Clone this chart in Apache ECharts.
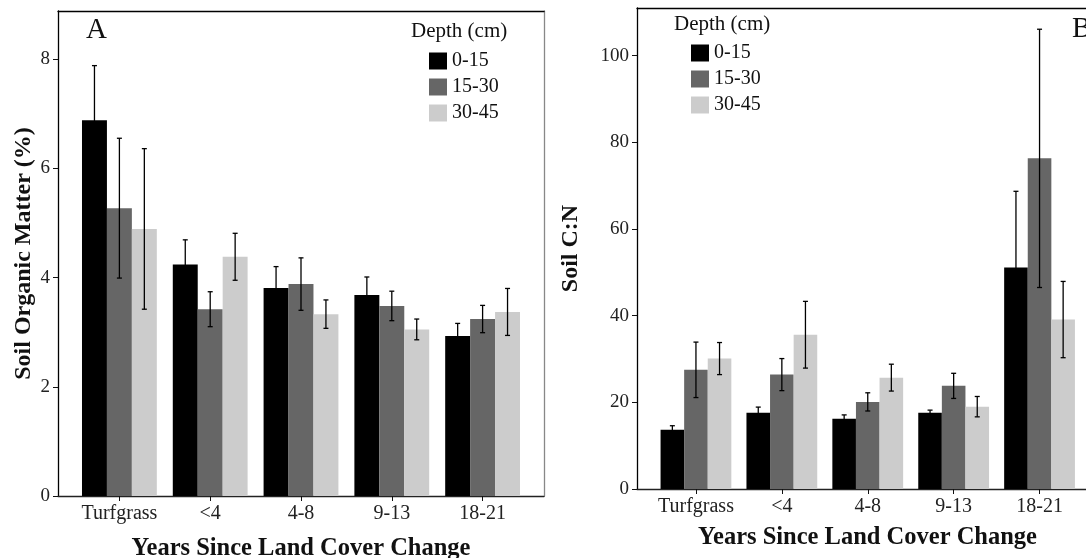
<!DOCTYPE html>
<html>
<head>
<meta charset="utf-8">
<script src="https://cdn.jsdelivr.net/npm/echarts@6/dist/echarts.min.js"></script>
<style>
    html, body { margin: 0; padding: 0; background: #fff; }
    #chart { width: 1086px; height: 558px; }
</style>
</head>
<body>
<div id="chart"></div>
<script>
    const categories = ['Turfgrass', '<4', '4-8', '9-13', '18-21'];
    const depths = ['0-15', '15-30', '30-45'];
    const depthColors = ['#000000', '#666666', '#cccccc'];

    // A: soil organic matter (%) - mean and error per depth
    const somMean0_15 = [6.88, 4.24, 3.81, 3.68, 2.93];
    const somMean15_30 = [5.27, 3.42, 3.88, 3.48, 3.24];
    const somMean30_45 = [4.89, 4.38, 3.33, 3.05, 3.37];
    const somErr0_15 = [1.0, 0.45, 0.39, 0.33, 0.23];
    const somErr15_30 = [1.28, 0.32, 0.48, 0.27, 0.25];
    const somErr30_45 = [1.47, 0.43, 0.26, 0.19, 0.43];
    const somTicks = [0, 2, 4, 6, 8];

    // B: soil C:N - mean and error per depth
    const cnMean0_15 = [13.7, 17.6, 16.2, 17.6, 51.1];
    const cnMean15_30 = [27.5, 26.4, 20.1, 23.8, 76.3];
    const cnMean30_45 = [30.1, 35.6, 25.7, 19.0, 39.1];
    const cnErr0_15 = [0.9, 1.3, 0.9, 0.6, 17.6];
    const cnErr15_30 = [6.4, 3.7, 2.1, 2.9, 29.8];
    const cnErr30_45 = [3.7, 7.7, 3.1, 2.35, 8.8];
    const cnTicks = [0, 20, 40, 60, 80, 100];

    const FONT = 'Liberation Serif';
    const GAP = 0.176;

    let myChart = echarts.init(document.getElementById('chart'));

    function barSeries(axis, means) {
        return means.map(function (m, i) {
            return {
                name: depths[i],
                type: 'bar',
                xAxisIndex: axis, yAxisIndex: axis,
                barGap: '0%',
                barCategoryGap: (GAP * 100) + '%',
                itemStyle: { color: depthColors[i] },
                data: m
            };
        });
    }

    function errorSeries(axis, means, errs) {
        return means.map(function (m, pos) {
            return {
                type: 'custom',
                xAxisIndex: axis, yAxisIndex: axis,
                z: 5,
                silent: true,
                encode: { x: 0, y: [1, 2] },
                data: m.map(function (v, i) { return [i, v - errs[pos][i], v + errs[pos][i]]; }),
                renderItem: function (params, api) {
                    let band = api.size([1, 0])[0];
                    let barW = band * (1 - GAP) / 3;
                    let lo = api.coord([api.value(0), api.value(1)]);
                    let hi = api.coord([api.value(0), api.value(2)]);
                    let x = lo[0] + (pos - 1) * barW;
                    let st = { stroke: '#000', lineWidth: 1.3 };
                    return {
                        type: 'group',
                        children: [
                            { type: 'line', shape: { x1: x, y1: lo[1], x2: x, y2: hi[1] }, style: st },
                            { type: 'line', shape: { x1: x - 2.5, y1: hi[1], x2: x + 2.5, y2: hi[1] }, style: st },
                            { type: 'line', shape: { x1: x - 2.5, y1: lo[1], x2: x + 2.5, y2: lo[1] }, style: st }
                        ]
                    };
                }
            };
        });
    }

    function frameX(grid, top, name, gap) {
        return {
            type: 'value', gridIndex: grid, position: top ? 'top' : 'bottom',
            min: 0, max: 1,
            axisLine: { show: true, onZero: false, lineStyle: { color: top ? '#000' : '#222', width: 1.3 } },
            axisTick: { show: false }, axisLabel: { show: false }, splitLine: { show: false },
            name: name || '', nameLocation: 'middle', nameGap: gap || 35,
            nameTextStyle: { fontFamily: FONT, fontSize: 24.5, fontWeight: 'bold', color: '#111' }
        };
    }

    function barX(grid) {
        return {
            type: 'category', gridIndex: grid, data: categories,
            axisLine: { show: false },
            axisTick: { show: true, alignWithLabel: true, interval: 0, length: 5, lineStyle: { color: '#111' } },
            axisLabel: { fontFamily: FONT, fontSize: 20, color: '#222', margin: 8, interval: 0 },
            splitLine: { show: false }
        };
    }

    function frameYLeft(grid, max, interval, ticks, name, gap) {
        return {
            type: 'value', gridIndex: grid, min: 0, max: max, interval: interval,
            axisLine: { show: true, onZero: false, lineStyle: { color: '#000', width: 1.3 } },
            axisTick: { show: true, length: 5, customValues: ticks, lineStyle: { color: '#111' } },
            axisLabel: { fontFamily: FONT, fontSize: 19, color: '#222', margin: 8, customValues: ticks },
            splitLine: { show: false },
            name: name, nameLocation: 'middle', nameGap: gap,
            nameTextStyle: { fontFamily: FONT, fontSize: 24, fontWeight: 'bold', color: '#111' }
        };
    }

    function frameYRight(grid) {
        return {
            type: 'value', gridIndex: grid, position: 'right', min: 0, max: 1,
            axisLine: { show: true, onZero: false, lineStyle: { color: '#888', width: 1.3 } },
            axisTick: { show: false }, axisLabel: { show: false }, splitLine: { show: false }
        };
    }

    function barY(grid, max) {
        return { type: 'value', gridIndex: grid, min: 0, max: max, show: false, splitLine: { show: false } };
    }

    function legend(left, top) {
        return {
            data: depths, orient: 'vertical', left: left, top: top, padding: 0,
            icon: 'rect', itemWidth: 18, itemHeight: 17, itemGap: 6, selectedMode: false,
            textStyle: { fontFamily: FONT, fontSize: 20, color: '#111', lineHeight: 18 }
        };
    }

    let somMeans = [somMean0_15, somMean15_30, somMean30_45];
    let somErrs = [somErr0_15, somErr15_30, somErr30_45];
    let cnMeans = [cnMean0_15, cnMean15_30, cnMean30_45];
    let cnErrs = [cnErr0_15, cnErr15_30, cnErr30_45];

    let titleStyle = { fontFamily: FONT, fontWeight: 'normal', color: '#111' };

    let option = {
        animation: false,
        title: [
            { text: 'A', left: 86, top: 16, padding: 0, textStyle: Object.assign({ fontSize: 29 }, titleStyle) },
            { text: 'B', left: 1072, top: 15, padding: 0, textStyle: Object.assign({ fontSize: 29 }, titleStyle) },
            { text: 'Depth (cm)', left: 411, top: 21, padding: 0, textStyle: Object.assign({ fontSize: 21 }, titleStyle) },
            { text: 'Depth (cm)', left: 674, top: 14, padding: 0, textStyle: Object.assign({ fontSize: 21 }, titleStyle) }
        ],
        legend: [legend(429, 51), legend(691, 43)],
        grid: [
            { left: 58, top: 11, width: 486, height: 485, outerBoundsMode: 'none', containLabel: false },
            { left: 74, top: 11, width: 454, height: 485, outerBoundsMode: 'none', containLabel: false },
            { left: 637, top: 8, width: 461, height: 481, outerBoundsMode: 'none', containLabel: false },
            { left: 653, top: 8, width: 429.5, height: 481, outerBoundsMode: 'none', containLabel: false }
        ],
        xAxis: [
            frameX(0, false, 'Years Since Land Cover Change', 40),
            frameX(0, true),
            barX(1),
            frameX(2, false, 'Years Since Land Cover Change', 36),
            frameX(2, true),
            barX(3)
        ],
        yAxis: [
            frameYLeft(0, 8.88, 2, somTicks, 'Soil Organic Matter (%)', 22),
            frameYRight(0),
            barY(1, 8.88),
            frameYLeft(2, 111, 20, cnTicks, 'Soil C:N', 54),
            frameYRight(2),
            barY(3, 111)
        ],
        series: [].concat(
            barSeries(2, somMeans),
            errorSeries(2, somMeans, somErrs),
            barSeries(5, cnMeans),
            errorSeries(5, cnMeans, cnErrs)
        )
    };

    myChart.setOption(option, true);
</script>
</body>
</html>
